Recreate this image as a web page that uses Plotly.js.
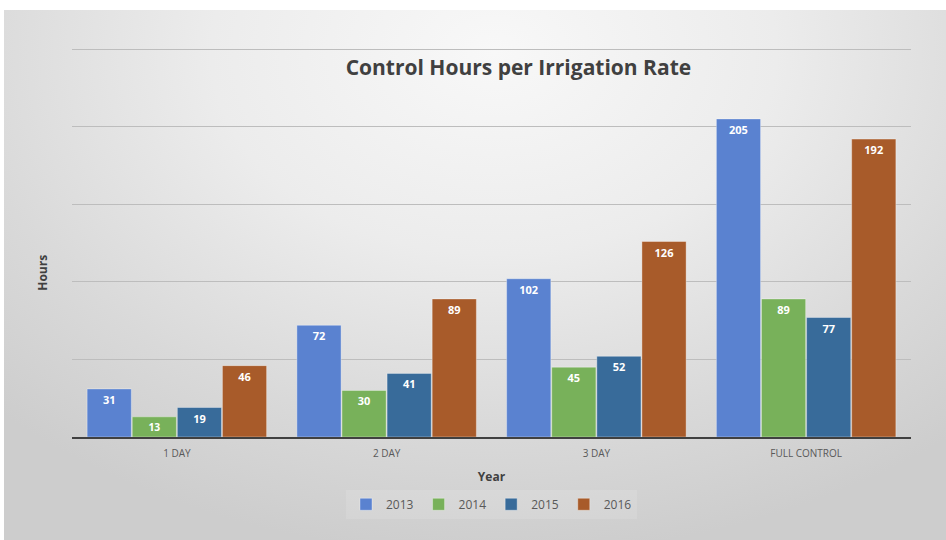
<!DOCTYPE html>
<html>
<head>
<meta charset="utf-8">
<script src="https://cdn.plot.ly/plotly-3.0.1.min.js"></script>
<style>
  html, body { margin: 0; padding: 0; background: #ffffff; }
  #bg { position: absolute; left: 4px; top: 10px; width: 942px; height: 530px;
        background: radial-gradient(ellipse 75% 95% at 52% 8%, #f8f8f8 0%, #ececec 40%, #d9d9d9 75%, #cdcdcd 100%); }
  #chart { position: absolute; left: 0; top: 0; width: 946px; height: 540px; }
</style>
</head>
<body>
<div id="bg"></div>
<div id="chart"></div>
<script>
const categories = ["1 DAY", "2 DAY", "3 DAY", "FULL CONTROL"];
const years = ["2013", "2014", "2015", "2016"];
const v2013 = [31, 72, 102, 205];
const v2014 = [13, 30, 45, 89];
const v2015 = [19, 41, 52, 77];
const v2016 = [46, 89, 126, 192];
const colors = ["#5a82d0", "#78b15a", "#386b9a", "#a85b2a"];
const series = [v2013, v2014, v2015, v2016];

const traces = series.map((vals, i) => ({
  type: "bar",
  name: years[i],
  x: categories,
  y: vals,
  text: vals.map(String),
  textposition: "inside",
  insidetextanchor: "end",
  textangle: 0,
  textfont: { family: "Open Sans, Arial, sans-serif", size: 11, color: "#ffffff", weight: "bold" },
  marker: { color: colors[i], line: { color: "rgba(255,255,255,0.35)", width: 1 } },
  cliponaxis: false,
  hoverinfo: "skip"
}));

const layout = {
  width: 946, height: 540,
  paper_bgcolor: "rgba(0,0,0,0)",
  plot_bgcolor: "rgba(0,0,0,0)",
  margin: { l: 72, r: 35, t: 46, b: 103 },
  barmode: "group",
  bargap: 0.14,
  bargroupgap: 0.02,
  title: {
    text: "<b>Control Hours per Irrigation Rate</b>",
    font: { family: "Open Sans, Arial, sans-serif", size: 21, color: "#404040" },
    x: 0.548, xanchor: "center", y: 0.874, yanchor: "middle"
  },
  xaxis: {
    type: "category",
    showgrid: false,
    showline: true, linecolor: "#404040", linewidth: 2,
    ticks: "",
    ticklabelstandoff: 6,
    tickfont: { family: "Open Sans, Arial, sans-serif", size: 10, color: "#595959" },
    title: { text: "<b>Year</b>", font: { family: "Open Sans, Arial, sans-serif", size: 12, color: "#404040" }, standoff: 14 },
    zeroline: false
  },
  yaxis: {
    range: [0, 252], tick0: 0, dtick: 50,
    showticklabels: false,
    showgrid: true, gridcolor: "#bdbdbd", gridwidth: 1,
    zeroline: false, showline: false, ticks: ""
  },
  annotations: [{
    text: "<b>Hours</b>",
    xref: "paper", yref: "paper",
    x: -0.0346, y: 0.42, xanchor: "center", yanchor: "middle",
    textangle: -90, showarrow: false,
    font: { family: "Open Sans, Arial, sans-serif", size: 12, color: "#404040" }
  }],
  showlegend: true,
  legend: {
    orientation: "h",
    x: 0.5, xanchor: "center",
    y: -0.172, yanchor: "middle",
    bgcolor: "rgba(255,255,255,0.12)",
    font: { family: "Open Sans, Arial, sans-serif", size: 12, color: "#595959" },
    itemwidth: 30,
    traceorder: "normal"
  }
};

Plotly.newPlot("chart", traces, layout, { displayModeBar: false, staticPlot: true });
</script>
</body>
</html>
